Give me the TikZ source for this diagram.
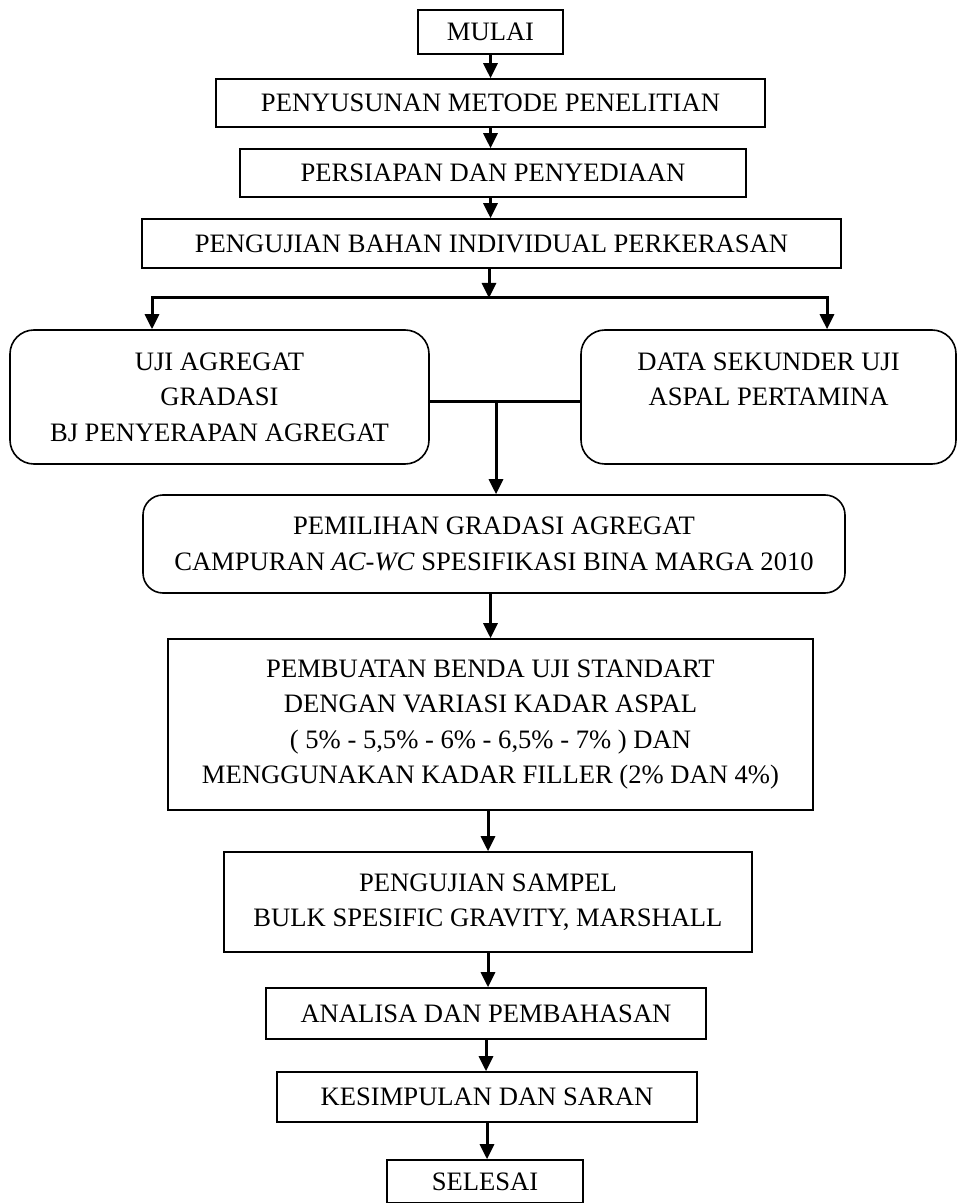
\documentclass[tikz,border=0pt]{standalone}
\usepackage{fontspec}
\setmainfont{Liberation Serif}
\usetikzlibrary{arrows.meta}

\begin{document}
\begin{tikzpicture}[x=0.5pt,y=-0.5pt,
    kotak/.style={draw, line width=0.8pt, align=center, inner sep=0pt,
        font=\fontsize{13.3}{17.7}\selectfont},
    bulat/.style={kotak, rounded corners=12pt},
    panah/.style={line width=1.5pt, -{Triangle[width=7pt,length=7.5pt]}},
    garis/.style={line width=1.5pt}]
    \useasboundingbox (0,0) rectangle (957,1203);

    \node[kotak, minimum width=72.5pt, minimum height=22pt] (mulai) at (490.5,32) {MULAI};
    \node[kotak, minimum width=274.5pt, minimum height=24pt] (metode) at (490.5,103) {PENYUSUNAN METODE PENELITIAN};
    \node[kotak, minimum width=253pt, minimum height=24pt] (persiapan) at (493,173) {PERSIAPAN DAN PENYEDIAAN};
    \node[kotak, minimum width=349.5pt, minimum height=24.5pt] (bahan) at (491.5,243.5) {PENGUJIAN BAHAN INDIVIDUAL PERKERASAN};

    \node[bulat, minimum width=209.5pt, minimum height=67pt] (agregat) at (219.5,397) {UJI AGREGAT\\GRADASI\\BJ PENYERAPAN AGREGAT};
    \node[bulat, minimum width=187.5pt, minimum height=67pt] (aspal) at (768.5,397) {DATA SEKUNDER UJI\\ASPAL PERTAMINA\\\mbox{}};

    \node[kotak, rounded corners=10pt, minimum width=351pt, minimum height=49pt] (gradasi) at (494,544) {PEMILIHAN GRADASI AGREGAT\\CAMPURAN \textit{AC-WC} SPESIFIKASI BINA MARGA 2010};
    \node[kotak, minimum width=322.5pt, minimum height=85.5pt] (benda) at (490.5,724.5) {PEMBUATAN BENDA UJI STANDART\\DENGAN VARIASI KADAR ASPAL\\( 5\% - 5,5\% - 6\% - 6,5\% - 7\% ) DAN\\MENGGUNAKAN KADAR FILLER (2\% DAN 4\%)};
    \node[kotak, minimum width=264pt, minimum height=50pt] (sampel) at (488,902) {PENGUJIAN SAMPEL\\BULK SPESIFIC GRAVITY, MARSHALL};
    \node[kotak, minimum width=220pt, minimum height=25.5pt] (analisa) at (486,1013.5) {ANALISA DAN PEMBAHASAN};
    \node[kotak, minimum width=210pt, minimum height=25pt] (kesimpulan) at (487,1097) {KESIMPULAN DAN SARAN};
    \node[kotak, minimum width=98pt, minimum height=21.5pt] (selesai) at (485,1181.5) {SELESAI};

    % alur atas
    \draw[panah] (mulai.south) -- (mulai.south |- metode.north);
    \draw[panah] (metode.south) -- (metode.south |- persiapan.north);
    \draw[panah] (persiapan.south -| metode.south) -- (metode.south |- bahan.north);

    % cabang
    \coordinate (cabang) at (489,298);
    \coordinate (kiri) at (152,298);
    \coordinate (kanan) at (827,298);
    \draw[panah] (bahan.south -| cabang) -- (cabang);
    \draw[panah] (cabang) -- (kiri) -- (kiri |- agregat.north);
    \draw[panah] (cabang) -- (kanan) -- (kanan |- aspal.north);

    % gabung
    \coordinate (tengah) at (496,401);
    \draw[garis] (agregat.east |- tengah) -- (aspal.west |- tengah);
    \draw[panah] (tengah) -- (tengah |- gradasi.north);

    % alur bawah
    \draw[panah] (benda.north |- gradasi.south) -- (benda.north);
    \draw[panah] (sampel.north |- benda.south) -- (sampel.north);
    \draw[panah] (sampel.south) -- (sampel.south |- analisa.north);
    \draw[panah] (analisa.south) -- (analisa.south |- kesimpulan.north);
    \draw[panah] (kesimpulan.south) -- (kesimpulan.south |- selesai.north);

%    \draw[help lines] (0,0) grid[step=50] (957,1203);

\end{tikzpicture}
\end{document}
